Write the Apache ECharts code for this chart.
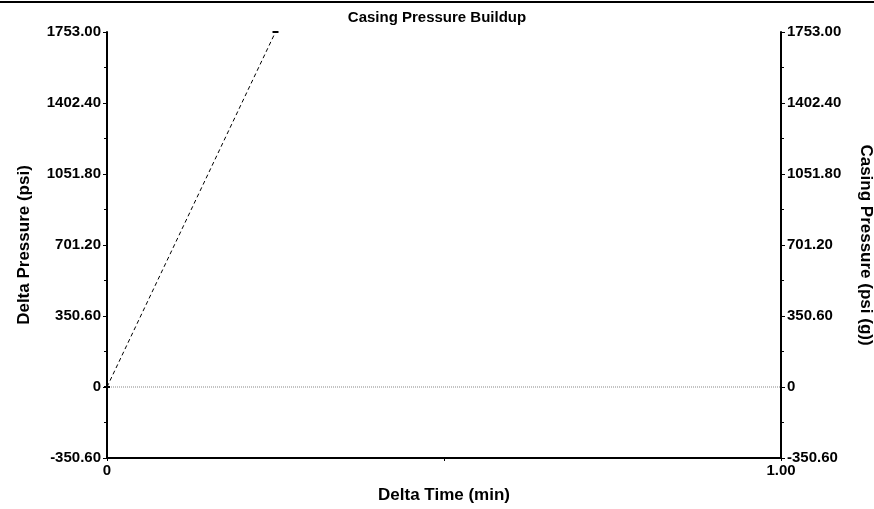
<!DOCTYPE html>
<html>
<head>
<meta charset="utf-8">
<script src="https://cdn.jsdelivr.net/npm/echarts@6/dist/echarts.min.js"></script>
<style>
  html, body { margin: 0; padding: 0; background: #fff; }
  #chart { width: 874px; height: 509px; }
</style>
</head>
<body>
<div id="chart"></div>
<script>
// buildup data
var deltaTime = [0, 0.25];
var deltaPressure = [0, 1753];
var zeroLine = [[0, 0], [1, 0]];

var yMin = -350.6;
var yMax = 1753;
var yStep = 350.6;

var font = "'Liberation Sans', Arial, sans-serif";

function yLabel(v) {
  if (Math.abs(v) < 1e-6) return "0";
  return v.toFixed(2);
}

function xLabel(v) {
  if (v === 0) return "0";
  if (v === 1) return "1.00";
  return "";
}

var myChart = echarts.init(document.getElementById("chart"));

var yAxisBase = {
  type: "value",
  min: yMin,
  max: yMax,
  interval: yStep,
  nameLocation: "middle",
  nameTextStyle: { fontFamily: font, fontWeight: "bold", fontSize: 17, color: "#000" },
  axisLine: { show: true, lineStyle: { color: "#000", width: 2 } },
  axisTick: { show: true, length: 4, lineStyle: { color: "#000", width: 1 } },
  minorTick: { show: true, splitNumber: 2, length: 3, lineStyle: { color: "#000", width: 1 } },
  splitLine: { show: false },
  axisLabel: {
    formatter: yLabel,
    fontFamily: font,
    fontWeight: "bold",
    fontSize: 15,
    color: "#000",
    margin: 6
  }
};

var opt = {
  animation: false,
  backgroundColor: "#fff",
  title: {
    text: "Casing Pressure Buildup",
    left: "center",
    top: 5,
    textStyle: { fontFamily: font, fontWeight: "bold", fontSize: 15, color: "#000" }
  },
  graphic: [
    { type: "rect", shape: { x: 0, y: 1, width: 874, height: 2 }, style: { fill: "#000" } }
  ],
  grid: { left: 107, right: 93, top: 32, bottom: 51, outerBoundsMode: "none" },
  xAxis: {
    type: "value",
    min: 0,
    max: 1,
    interval: 0.5,
    name: "Delta Time (min)",
    nameLocation: "middle",
    nameGap: 29,
    nameTextStyle: { fontFamily: font, fontWeight: "bold", fontSize: 17, color: "#000" },
    axisLine: { show: true, onZero: false, lineStyle: { color: "#000", width: 2 } },
    axisTick: { show: true, length: 3, lineStyle: { color: "#000" } },
    splitLine: { show: false },
    axisLabel: {
      formatter: xLabel,
      fontFamily: font,
      fontWeight: "bold",
      fontSize: 15,
      color: "#000",
      margin: 5
    }
  },
  yAxis: [
    Object.assign({}, yAxisBase, {
      position: "left",
      name: "Delta Pressure (psi)",
      nameGap: 74,
      nameRotate: 90
    }),
    Object.assign({}, yAxisBase, {
      position: "right",
      name: "Casing Pressure (psi (g))",
      nameGap: 76,
      nameRotate: -90
    })
  ],
  series: [
    {
      type: "line",
      data: zeroLine,
      symbol: "none",
      lineStyle: { color: "#888", width: 1, type: "dotted" },
      silent: true,
      z: 1
    },
    {
      type: "line",
      data: deltaTime.map(function (t, i) { return [t, deltaPressure[i]]; }),
      symbol: "rect",
      symbolSize: [6, 2],
      itemStyle: { color: "#000" },
      lineStyle: { color: "#000", width: 1, type: [4, 3] },
      z: 2
    }
  ]
};

myChart.setOption(opt);
</script>
</body>
</html>
